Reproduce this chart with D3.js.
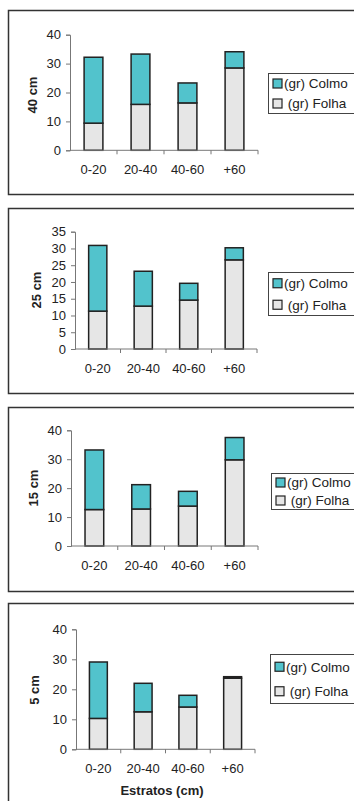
<!DOCTYPE html>
<html>
<head>
<meta charset="utf-8">
<script src="https://cdn.jsdelivr.net/npm/d3@7"></script>
<style>
  html, body { margin: 0; padding: 0; background: #fff; }
  svg { display: block; font-family: "Liberation Sans", Arial, sans-serif; }
</style>
</head>
<body>
<svg id="chart" width="354" height="801"></svg>
<script>
// Estratos (cm)
const categories = ["0-20", "20-40", "40-60", "+60"];

// Peso (g) por estrato, para cada altura de corte
const heights = ["40 cm", "25 cm", "15 cm", "5 cm"];
const folha40 = [9.4, 15.9, 16.4, 28.5];
const colmo40 = [22.8, 17.4, 6.9, 5.6];
const folha25 = [11.3, 12.8, 14.6, 26.6];
const colmo25 = [19.6, 10.4, 5.0, 3.6];
const folha15 = [12.6, 12.8, 13.8, 29.8];
const colmo15 = [20.6, 8.4, 5.1, 7.7];
const folha5 = [10.3, 12.5, 14.1, 23.7];
const colmo5 = [18.8, 9.5, 3.9, 0.5];

const yMax = [40, 35, 40, 40];
const yStep = [10, 5, 10, 10];

const seriesNames = ["(gr) Colmo", " (gr) Folha"];
const colmoColor = "#52c3cc";
const folhaColor = "#e6e6e6";

const folhaAll = [folha40, folha25, folha15, folha5];
const colmoAll = [colmo40, colmo25, colmo15, colmo5];

// Panel geometry
const panels = [
  { top: 10, bottom: 194, ax: 70, x1: 258, y0: 150.3, y1: 34.7, lx: 32, ly: 95, leg: [268, 73, 113] },
  { top: 208, bottom: 393, ax: 75, x1: 257, y0: 349, y1: 231.7, lx: 36, ly: 290, leg: [268, 272, 315] },
  { top: 407, bottom: 591, ax: 71, x1: 258, y0: 546, y1: 430.3, lx: 33, ly: 488, leg: [271, 473, 509] },
  { top: 603, bottom: 830, ax: 76, x1: 255, y0: 749.3, y1: 629.3, lx: 34, ly: 690, leg: [270, 654, 703] }
];

const svg = d3.select("#chart");

panels.forEach((p, i) => {
  const g = svg.append("g");

  // frame
  g.append("rect")
    .attr("x", 8.5).attr("y", p.top + 0.5)
    .attr("width", 400).attr("height", p.bottom - p.top)
    .attr("fill", "none").attr("stroke", "#333").attr("stroke-width", 1.5);

  const x = d3.scaleBand().domain(categories).range([p.ax, p.x1]).paddingInner(0.6).paddingOuter(0.3);
  const y = d3.scaleLinear().domain([0, yMax[i]]).range([p.y0, p.y1]);

  const stack = d3.stack().keys(["folha", "colmo"]);
  const rows = categories.map((c, k) => ({ cat: c, folha: folhaAll[i][k], colmo: colmoAll[i][k] }));
  const layers = stack(rows);
  const fills = { folha: folhaColor, colmo: colmoColor };

  layers.forEach(layer => {
    g.append("g").selectAll("rect").data(layer).join("rect")
      .attr("x", d => x(d.data.cat))
      .attr("y", d => y(d[1]))
      .attr("width", x.bandwidth())
      .attr("height", d => y(d[0]) - y(d[1]))
      .attr("fill", fills[layer.key])
      .attr("stroke", "#222")
      .attr("stroke-width", 1.5);
  });

  // y axis
  const yAxis = d3.axisLeft(y).tickValues(d3.range(0, yMax[i] + 0.001, yStep[i])).tickSize(4).tickPadding(5);
  const ya = g.append("g").attr("transform", `translate(${p.ax},0)`).call(yAxis);
  ya.select(".domain").attr("stroke", "#777");
  ya.selectAll(".tick line").attr("stroke", "#777");
  ya.selectAll("text").attr("font-size", 13).attr("fill", "#222").style("font-family", "Liberation Sans, Arial, sans-serif");

  // x axis with ticks at category boundaries
  const xa = g.append("g").attr("transform", `translate(0,${p.y0})`);
  xa.append("line").attr("x1", p.ax).attr("x2", p.x1).attr("stroke", "#777");
  const step = (p.x1 - p.ax) / categories.length;
  xa.selectAll("line.t").data(d3.range(1, categories.length + 1)).join("line")
    .attr("class", "t")
    .attr("x1", k => p.ax + k * step).attr("x2", k => p.ax + k * step)
    .attr("y1", 0).attr("y2", 4).attr("stroke", "#777");
  xa.selectAll("text").data(categories).join("text")
    .attr("x", c => x(c) + x.bandwidth() / 2)
    .attr("y", 24)
    .attr("text-anchor", "middle")
    .attr("font-size", 13)
    .attr("fill", "#222")
    .text(c => c);

  // y title
  g.append("text")
    .attr("transform", `translate(${p.lx + 5},${p.ly}) rotate(-90)`)
    .attr("text-anchor", "middle")
    .attr("font-size", 13).attr("font-weight", "bold").attr("fill", "#222")
    .text(heights[i]);

  // legend
  const [lx, lt, lb] = p.leg;
  const lg = g.append("g");
  lg.append("rect").attr("x", lx + 0.5).attr("y", lt + 0.5).attr("width", 120).attr("height", lb - lt)
    .attr("fill", "#fff").attr("stroke", "#444").attr("stroke-width", 1);
  const rowH = (lb - lt) / 2;
  [colmoColor, folhaColor].forEach((col, k) => {
    const cy = lt + rowH * (k + 0.5) + 0.5;
    lg.append("rect").attr("x", lx + 5).attr("y", cy - 4.5).attr("width", 9).attr("height", 9)
      .attr("fill", col).attr("stroke", "#222").attr("stroke-width", 1.2);
    lg.append("text").attr("x", lx + 16).attr("y", cy + 4.8)
      .attr("font-size", 13.5).attr("fill", "#222")
      .attr("xml:space", "preserve").style("white-space", "pre")
      .text(seriesNames[k]);
  });
});

// x title
svg.append("text")
  .attr("x", 162).attr("y", 795)
  .attr("text-anchor", "middle")
  .attr("font-size", 13).attr("font-weight", "bold").attr("fill", "#222")
  .text("Estratos (cm)");
</script>
</body>
</html>
